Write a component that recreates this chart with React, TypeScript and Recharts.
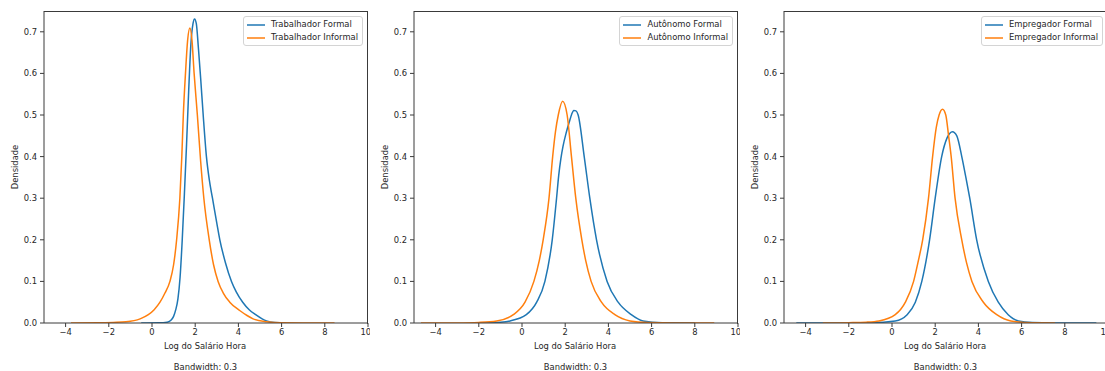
import React from "react";
import { LineChart, Line, XAxis, YAxis } from "recharts";

// ---------- Data ----------
const xTicks = [-4, -2, 0, 2, 4, 6, 8, 10];
const yTicks = [0, 0.1, 0.2, 0.3, 0.4, 0.5, 0.6, 0.7];

const panelNames = [
  ["Trabalhador Formal", "Trabalhador Informal"],
  ["Autônomo Formal", "Autônomo Informal"],
  ["Empregador Formal", "Empregador Informal"],
];

const trabFormalX = [-0.5, 0.3, 0.7, 0.9, 1.0, 1.1, 1.2, 1.3, 1.4, 1.5, 1.6, 1.7, 1.8, 1.9, 1.97, 2.05, 2.15, 2.25, 2.37, 2.52, 2.65, 2.8, 3.0, 3.14, 3.4, 3.68, 3.9, 4.2, 4.5, 4.8, 5.1, 5.3, 5.7, 6.2];
const trabFormalY = [0, 0.0005, 0.002, 0.008, 0.016, 0.032, 0.058, 0.11, 0.2, 0.31, 0.43, 0.56, 0.67, 0.72, 0.731, 0.72, 0.66, 0.59, 0.5, 0.4, 0.345, 0.3, 0.24, 0.2, 0.145, 0.1, 0.075, 0.05, 0.032, 0.02, 0.01, 0.005, 0.001, 0];

const trabInformalX = [-3.75, -2.5, -1.8, -1.2, -0.55, -0.17, 0.1, 0.37, 0.6, 0.83, 1.0, 1.14, 1.29, 1.38, 1.45, 1.55, 1.65, 1.755, 1.85, 1.95, 2.1, 2.25, 2.4, 2.65, 2.85, 3.06, 3.3, 3.6, 4.06, 4.4, 4.68, 5.3, 6.0, 7.0, 8.45];
const trabInformalY = [0, 0.0005, 0.0015, 0.003, 0.01, 0.02, 0.032, 0.05, 0.072, 0.1, 0.14, 0.2, 0.3, 0.4, 0.5, 0.6, 0.68, 0.709, 0.68, 0.6, 0.5, 0.39, 0.3, 0.2, 0.14, 0.1, 0.072, 0.05, 0.03, 0.018, 0.01, 0.003, 0.0005, 0.0001, 0];

const autoFormalX = [-2, -1, -0.55, 0.2, 0.68, 1.06, 1.4, 1.6, 1.7, 1.8, 1.9, 2.05, 2.2, 2.3, 2.4, 2.5, 2.6, 2.88, 3.14, 3.45, 3.94, 4.45, 5.06, 5.6, 6.5, 8];
const autoFormalY = [0, 0.002, 0.005, 0.02, 0.05, 0.1, 0.2, 0.3, 0.355, 0.395, 0.425, 0.458, 0.485, 0.502, 0.511, 0.51, 0.5, 0.4, 0.3, 0.2, 0.1, 0.05, 0.02, 0.005, 0.0005, 0];

const autoInformalX = [-4.68, -3, -2, -1.17, -0.4, 0.14, 0.55, 0.8, 0.98, 1.25, 1.42, 1.55, 1.68, 1.88, 2.09, 2.29, 2.49, 2.77, 2.95, 3.2, 3.68, 4.3, 5.0, 5.8, 7, 8.9];
const autoInformalY = [0, 0.0003, 0.0015, 0.005, 0.02, 0.05, 0.1, 0.15, 0.2, 0.3, 0.4, 0.46, 0.5, 0.533, 0.5, 0.4, 0.3, 0.2, 0.15, 0.1, 0.05, 0.02, 0.005, 0.001, 0.0002, 0];

const empFormalX = [-4.43, -2, -1, 0.15, 0.7, 1.08, 1.38, 1.74, 2.0, 2.3, 2.55, 2.8, 3.0, 3.23, 3.42, 3.6, 3.92, 4.46, 4.92, 5.38, 5.85, 6.5, 7.5, 9.46];
const empFormalY = [0, 0.0001, 0.0005, 0.005, 0.02, 0.05, 0.1, 0.2, 0.3, 0.4, 0.445, 0.46, 0.45, 0.4, 0.35, 0.3, 0.2, 0.1, 0.05, 0.02, 0.005, 0.001, 0.0002, 0];

const empInformalX = [-3.2, -2, -1.2, -0.6, 0.15, 0.62, 1.0, 1.2, 1.42, 1.69, 1.88, 2.05, 2.18, 2.34, 2.49, 2.62, 2.74, 2.92, 3.23, 3.45, 3.7, 4.23, 4.85, 5.5, 6.5, 7.55];
const empInformalY = [0, 0.0008, 0.002, 0.005, 0.02, 0.05, 0.1, 0.145, 0.2, 0.3, 0.4, 0.47, 0.5, 0.514, 0.5, 0.45, 0.4, 0.3, 0.2, 0.145, 0.1, 0.05, 0.02, 0.005, 0.0005, 0];

const bandwidthText = "Bandwidth: 0.3";
const xLabel = "Log do Salário Hora";
const yLabel = "Densidade";

// ---------- Helpers ----------
const zip = (xs: number[], ys: number[]) => xs.map((x, i) => ({ x, y: ys[i] }));

const panels = [
  { formal: zip(trabFormalX, trabFormalY), informal: zip(trabInformalX, trabInformalY), names: panelNames[0] },
  { formal: zip(autoFormalX, autoFormalY), informal: zip(autoInformalX, autoInformalY), names: panelNames[1] },
  { formal: zip(empFormalX, empFormalY), informal: zip(empInformalX, empInformalY), names: panelNames[2] },
];

const BLUE = "#1f77b4";
const ORANGE = "#ff7f0e";
const AXIS = "#3a3a3a";
const TEXT = "#262626";
const FONT = "'DejaVu Sans', sans-serif";
const FS = 8.4;

const tickStyle = { fill: TEXT, fontSize: FS, fontFamily: FONT };

function Panel({ idx }: { idx: number }) {
  const p = panels[idx];
  return (
    <div style={{ position: "absolute", left: idx * 370, top: 0, width: 370, height: 371 }}>
      <LineChart width={370} height={371} margin={{ top: 11, right: 2, left: 0, bottom: 28 }}>
        <XAxis
          dataKey="x"
          type="number"
          domain={[-5, 10]}
          ticks={xTicks}
          allowDataOverflow
          stroke={AXIS}
          tickSize={4}
          tickMargin={2}
          height={20}
          tick={tickStyle}
          tickFormatter={(v: number) => String(v).replace("-", "\u2212")}
        />
        <YAxis
          type="number"
          domain={[0, 0.75]}
          ticks={yTicks}
          allowDataOverflow
          stroke={AXIS}
          tickSize={4}
          tickMargin={3}
          width={44}
          tick={tickStyle}
          tickFormatter={(v: number) => v.toFixed(1)}
        />
        <Line data={p.formal} dataKey="y" type="monotone" stroke={BLUE} strokeWidth={1.5} dot={false} isAnimationActive={false} />
        <Line data={p.informal} dataKey="y" type="monotone" stroke={ORANGE} strokeWidth={1.5} dot={false} isAnimationActive={false} />
      </LineChart>
      {/* Top and right spines */}
      <div
        style={{
          position: "absolute",
          left: 44,
          top: 11,
          width: 324,
          height: 313,
          borderTop: `1px solid ${AXIS}`,
          borderRight: `1px solid ${AXIS}`,
          boxSizing: "border-box",
          pointerEvents: "none",
        }}
      />
      {/* Legend */}
      <div
        style={{
          position: "absolute",
          right: 7,
          top: 16,
          padding: "1px 4px 1px 3px",
          border: "1px solid #d4d4d4",
          borderRadius: 3,
          background: "rgba(255,255,255,0.85)",
          fontFamily: FONT,
          fontSize: FS,
          color: TEXT,
          boxSizing: "border-box",
        }}
      >
        {[
          { name: p.names[0], color: BLUE },
          { name: p.names[1], color: ORANGE },
        ].map((e) => (
          <div key={e.name} style={{ display: "flex", alignItems: "center", height: 13, lineHeight: "13px", whiteSpace: "nowrap" }}>
            <svg width={18} height={4} style={{ marginRight: 6, display: "block", flex: "none" }}>
              <line x1={0} y1={2} x2={18} y2={2} stroke={e.color} strokeWidth={1.5} />
            </svg>
            <span>{e.name}</span>
          </div>
        ))}
      </div>
      {/* Axis labels */}
      <div
        style={{
          position: "absolute",
          left: 15,
          top: 167,
          transform: "translate(-50%, -50%) rotate(-90deg)",
          fontFamily: FONT,
          fontSize: FS,
          color: TEXT,
          whiteSpace: "nowrap",
        }}
      >
        {yLabel}
      </div>
      <div
        style={{
          position: "absolute",
          left: 205,
          top: 346,
          transform: "translate(-50%, -50%)",
          fontFamily: FONT,
          fontSize: FS,
          color: TEXT,
          whiteSpace: "nowrap",
        }}
      >
        {xLabel}
      </div>
      <div
        style={{
          position: "absolute",
          left: 205.5,
          top: 367,
          transform: "translate(-50%, -50%)",
          fontFamily: FONT,
          fontSize: FS,
          color: TEXT,
          whiteSpace: "nowrap",
        }}
      >
        {bandwidthText}
      </div>
    </div>
  );
}

export default function App() {
  return (
    <div
      style={{
        position: "absolute",
        left: 0,
        top: 0,
        width: 1105,
        height: 371,
        overflow: "hidden",
        background: "#fff",
      }}
    >
      <Panel idx={0} />
      <Panel idx={1} />
      <Panel idx={2} />
    </div>
  );
}
